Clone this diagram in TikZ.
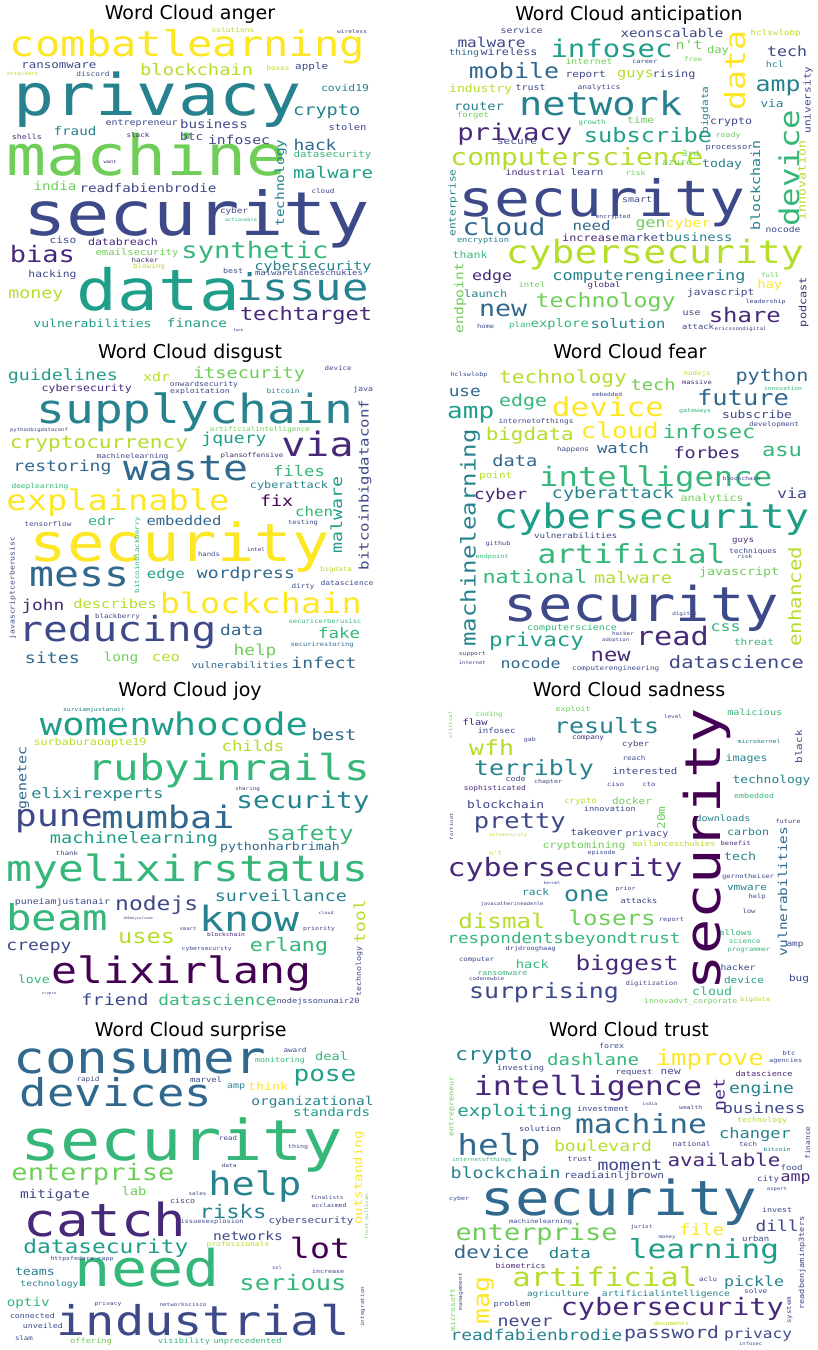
\documentclass[tikz,border=0pt]{standalone}
\usepackage{fontspec}
\usepackage{graphicx}
\newfontfamily\wcfont{DejaVu Sans Mono}
\newfontfamily\titlefont{DejaVu Sans}

% viridis colours
\definecolor{vA}{HTML}{440154}
\definecolor{vB}{HTML}{482878}
\definecolor{vC}{HTML}{3E4989}
\definecolor{vD}{HTML}{31688E}
\definecolor{vE}{HTML}{26828E}
\definecolor{vF}{HTML}{1F9E89}
\definecolor{vG}{HTML}{35B779}
\definecolor{vH}{HTML}{6ECE58}
\definecolor{vI}{HTML}{B5DE2B}
\definecolor{vJ}{HTML}{FDE725}

% word of given width, a bit squat like the cloud font
\newcommand{\wtext}[2]{\resizebox{#1pt}{!}{\scalebox{1}[0.84]{#2}}}

\tikzset{
  word/.style={inner sep=0pt, anchor=base, font=\wcfont},
  upword/.style={word, rotate=90},
  cloudtitle/.style={inner sep=0pt, anchor=base, font=\titlefont\fontsize{19}{19}\selectfont}
}

\begin{document}
\begin{tikzpicture}[x=1pt,y=-1pt]
 \useasboundingbox (0,0) rectangle (818,1350); %whole figure
 \fill[white] (0,0) rectangle (818,1350);

 % ---- anger ----
 \node[cloudtitle] (t-anger) at (190,19.3) {Word Cloud anger};
 \foreach \x/\y/\w/\c/\t [count=\i] in {187.5/56.7/355/vJ/combatlearning, 157.5/115/288/vE/privacy, 146.7/175/280/vH/machine, 196.7/235/347/vC/security, 158.3/310/163/vF/data, 302.5/300/132/vE/issue, 255/258/147/vG/synthetic, 42.5/262/65/vB/bias, 306/320/132/vB/techtarget, 326.7/115/67/vE/crypto, 196.7/75/113/vI/blockchain, 315/150/43/vD/hack, 333/178/80/vF/malware, 59/68/75/vC/ransomware, 311.7/69/33/vC/apple, 345/91/48/vE/covid19, 141.7/125/72/vC/entrepreneur, 214/128/68/vC/business, 75/135/43/vE/fraud, 191.7/140/23/vC/btc, 239/144/62/vC/infosec, 347.5/130/38/vC/stolen, 332.5/157/78/vG/datasecurity, 148/192/137/vC/readfabienbrodie, 55/190.7/43/vH/india, 323/193/23/vC/cloud, 234/213/28/vC/cyber, 63/243/27/vC/ciso, 123/245/70/vB/databreach, 137/255/83/vH/emailsecurity, 145/262/27/vB/hacker, 52.5/277/48/vC/hacking, 313/270/117/vE/cybersecurity, 233/273/20/vC/best, 149/268/32/vI/blowing, 36/298.3/55/vI/money, 92.5/327/118/vF/vulnerabilities, 197/327/60/vF/finance, 233/32/43/vI/solutions, 93/76/33/vC/discord, 278/70/23/vI/boxes, 22.5/75/32/vI/attackers, 27/139/30/vB/shells, 138/137/23/vB/slack, 110/163/13/vB/want, 238/331/10/vB/fuck, 309/275/108/vC/malwarelanceschukies, 241/221/32/vG/actionable, 352/33/30/vC/wireless}
  \node[word, text=\c] (ang\i) at (\x,\y) {\wtext{\w}{\t}};
 \foreach \x/\y/\w/\c/\t [count=\i] in {284/183/87/vE/technology}
  \node[upword, text=\c] (angr\i) at (\x,\y) {\wtext{\w}{\t}};

 % ---- anticipation ----
 \node[cloudtitle] (t-anticipation) at (629,20) {Word Cloud anticipation};
 \foreach \x/\y/\w/\c/\t [count=\i] in {602.3/216.7/287/vC/security, 654.8/263/298/vI/cybersecurity, 600.7/115/163/vE/network, 514.8/140/115/vB/privacy, 648/142/128/vF/subscribe, 611.5/57/122/vF/infosec, 514/78/90/vD/mobile, 577/165/253/vI/computerscience, 504/235/83/vD/cloud, 649/280/193/vE/computerengineering, 605.7/307/140/vH/technology, 503/316/48/vD/new, 744.8/322/72/vB/share, 628/328/75/vE/solution, 559.8/327/58/vG/explore, 492/280/40/vB/edge, 591.5/230/38/vD/need, 650.7/227/30/vH/gen, 688/227/45/vJ/cyber, 590.7/241/57/vB/increase, 643/241/45/vC/market, 699/241/67/vE/business, 778/91/45/vE/amp, 491.5/47/68/vC/malware, 509/55/57/vC/wireless, 464/55/30/vD/thing, 521.5/33/42/vC/service, 672/37/103/vC/xeonscalable, 689/49/27/vH/n't, 787/56/40/vC/tech, 775.7/35/50/vI/hclswlobp, 774.8/67/18/vE/hcl, 718/53/22/vH/day, 693/61/18/vH/free, 644.8/63/25/vC/career, 589/64/47/vH/internet, 585.7/77/40/vC/report, 635.7/77/37/vI/guys, 674/77/43/vC/rising, 480.7/92/63/vI/industry, 530.7/90/30/vC/trust, 599/89/43/vC/analytics, 479/110/50/vE/router, 473/117/32/vH/forget, 772/107/23/vE/via, 731/124/42/vC/crypto, 640.7/123/27/vH/time, 592/124/27/vG/growth, 517/144/40/vC/secure, 729/149/47/vC/processor, 690.7/156/17/vH/3rd, 728/137/25/vH/ready, 722/167/40/vE/today, 535.7/175/60/vB/industrial, 587/175/33/vC/learn, 635.7/175/20/vH/risk, 677/165/30/vH/azure, 637/202/30/vC/smart, 613/218/35/vC/encrypted, 483/242/52/vE/encryption, 470/258/35/vG/thank, 783/232/35/vC/nocode, 770/277/18/vH/full, 769.8/288/25/vJ/hay, 720.7/295/67/vC/javascript, 485.7/297/43/vE/launch, 532/287/27/vH/intel, 604/287/33/vB/global, 485.7/328/17/vC/home, 520/327/22/vG/plan, 691.5/315/18/vC/use, 698/329/32/vC/attack, 765.7/303/40/vC/leadership, 740.7/330/52/vC/ericssondigital}
  \node[word, text=\c] (ant\i) at (\x,\y) {\wtext{\w}{\t}};
 \foreach \x/\y/\w/\c/\t [count=\i] in {745/70/80/vJ/data, 799/168/117/vG/device, 760/185/90/vE/blockchain, 708/110/47/vE/bigdata, 805.7/180/80/vI/innovation, 810.7/100/67/vC/university, 455.7/203/67/vE/enterprise, 463.3/298/70/vH/endpoint, 806.3/302/50/vB/podcast}
  \node[upword, text=\c] (antr\i) at (\x,\y) {\wtext{\w}{\t}};

 % ---- disgust ----
 \node[cloudtitle] (t-disgust) at (190,358.3) {Word Cloud disgust};
 \foreach \x/\y/\w/\c/\t [count=\i] in {195/423/317/vE/supplychain, 317.5/456.7/72/vB/via, 99/448/178/vI/cryptocurrency, 186/480/125/vD/waste, 118/510/223/vJ/explainable, 180/561.7/300/vJ/security, 80/586.7/100/vD/mess, 260.8/613/202/vJ/blockchain, 117.5/641.7/198/vC/reducing, 63/380/110/vF/guidelines, 249/378/112/vH/itsecurity, 156.7/381.7/27/vI/xdr, 86.7/391.7/90/vB/cybersecurity, 234/443.3/65/vF/jquery, 62.5/471.7/98/vD/restoring, 299/476.7/52/vG/files, 289/488.3/78/vE/cyberattack, 276.7/506.7/33/vA/fix, 314/516.7/38/vG/chen, 101.7/525/27/vG/edr, 184/525/75/vD/embedded, 165.8/578.3/38/vF/edge, 246/578.3/98/vD/wordpress, 43/610/43/vB/john, 115/608.3/83/vI/describes, 241.7/635/43/vD/data, 339/638/42/vG/fake, 255/655/43/vH/help, 324/668.3/65/vD/infect, 52.5/663.3/55/vD/sites, 121/661.7/35/vH/long, 166/661.7/28/vI/ceo, 240/668.3/97/vD/vulnerabilities, 132.5/458.3/72/vC/machinelearning, 39/431.7/58/vC/pythonbigdataconf, 260/431.7/100/vH/artificialintelligence, 40/488.3/57/vG/deeplearning, 48/526.7/47/vC/tensorflow, 200/393.3/60/vC/exploitation, 204/386.7/68/vC/onwardsecurity, 283/393.3/33/vE/bitcoin, 252/457.3/63/vB/plansoffensive, 347/585/53/vC/datascience, 325/623.3/73/vG/securicerberusisc, 322/646.7/63/vD/securirestoring, 117.5/618.3/45/vC/blackberry, 338/370/27/vC/device, 363/391.7/20/vC/java, 303/524.3/30/vC/testing, 256/551.7/18/vB/intel, 303/588.3/23/vC/dirty, 336/571.7/32/vI/bigdata, 209/556.7/22/vC/hands}
  \node[word, text=\c] (dis\i) at (\x,\y) {\wtext{\w}{\t}};
 \foreach \x/\y/\w/\c/\t [count=\i] in {342/515/77/vF/malware, 368.5/485/170/vC/bitcoinbigdataconf, 14.5/588/103/vC/javascriptcerberusisc, 139/555/77/vG/bitcoinblackberry}
  \node[upword, text=\c] (disr\i) at (\x,\y) {\wtext{\w}{\t}};

 % ---- fear ----
 \node[cloudtitle] (t-fear) at (629.8,358.3) {Word Cloud fear};
 \foreach \x/\y/\w/\c/\t [count=\i] in {641.5/621.7/275/vC/security, 651.5/528.3/315/vF/cybersecurity, 655.7/486.7/233/vG/intelligence, 631.5/563.3/188/vG/artificial, 608/416.7/112/vJ/device, 619.8/438.3/78/vJ/cloud, 709/438.3/93/vG/infosec, 563/383.3/128/vI/technology, 653/390/45/vH/tech, 772/381.7/73/vD/python, 470.7/418.3/47/vF/amp, 743/405/92/vD/future, 523/406.7/48/vG/edge, 464.8/396/32/vD/use, 757/418.3/70/vC/subscribe, 529.8/440/88/vI/bigdata, 623/453.3/52/vD/watch, 707/458.3/67/vB/forbes, 782/456.7/40/vG/asu, 514.8/466/45/vD/data, 495.7/478.3/33/vI/point, 500.7/499.3/53/vB/cyber, 613/498.3/122/vE/cyberattack, 792/498.3/30/vC/via, 712/501.7/63/vH/analytics, 535/583.3/105/vG/national, 633/583.3/78/vI/malware, 739/575/80/vH/javascript, 743/542.7/22/vB/guys, 575.7/538.3/83/vC/vulnerabilities, 753/553.3/48/vC/techniques, 754/645/40/vG/threat, 725.7/631.7/30/vG/css, 672.3/645/73/vB/read, 536.5/646.7/95/vF/privacy, 610.7/661.7/40/vB/new, 736.5/668.3/135/vC/datascience, 530.7/668.3/60/vD/nocode, 572/630.7/90/vG/computerscience, 615.7/670/87/vC/computerengineering, 498/545/25/vC/github, 492/558.3/33/vG/endpoint, 697/384.3/30/vB/massive, 607/396/30/vC/embedded, 573/451.7/32/vC/happens, 536/423.3/75/vC/internetofthings, 695/412.3/32/vG/gateways, 741.5/480/38/vC/blockchain, 615.7/641.7/27/vC/adoption, 623/635.7/22/vC/hacker, 472.3/655/27/vC/support, 472.3/664/27/vC/internet, 684.8/615/25/vC/digital, 697/375/27/vI/nodejs, 469/376/37/vC/hclswlobp, 783/390/38/vG/innovation, 774/426/50/vC/development, 744.8/558.3/15/vC/risk}
  \node[word, text=\c] (fea\i) at (\x,\y) {\wtext{\w}{\t}};
 \foreach \x/\y/\w/\c/\t [count=\i] in {475.7/538/217/vE/machinelearning, 801/596.7/100/vI/enhanced}
  \node[upword, text=\c] (fear\i) at (\x,\y) {\wtext{\w}{\t}};

 % ---- joy ----
 \node[cloudtitle] (t-joy) at (190,696) {Word Cloud joy};
 \foreach \x/\y/\w/\c/\t [count=\i] in {174/735/268/vF/womenwhocode, 229/780/282/vG/rubyinrails, 303/808.3/133/vE/security, 59/826.7/88/vC/pune, 168/828.3/133/vD/mumbai, 187.5/881.7/362/vG/myelixirstatus, 57.5/930/102/vG/beam, 250/931.7/100/vE/know, 156.7/910/83/vC/nodejs, 281/901.7/132/vE/surveillance, 181.7/983.3/260/vA/elixirlang, 146.7/943.3/57/vI/uses, 289/951.7/78/vG/erlang, 39/950/65/vC/creepy, 310/840/87/vG/safety, 134/843.3/168/vF/machinelearning, 280/850/120/vD/pythonharbrimah, 97.5/798.3/132/vE/elixirexperts, 253/751.7/63/vI/childs, 334/740/45/vD/best, 90/745/113/vI/surbaburaoapte19, 94/711.7/62/vE/surviamjustanair, 34/983.3/32/vG/love, 115/1005/67/vC/friend, 217.5/1005/118/vG/datascience, 318/1003.3/83/vC/nodejssonunair20, 62.5/904/95/vC/puneiamjustanair, 138/919/30/vC/100daysofcode, 226/936.7/38/vB/blockchain, 206.7/950.7/50/vC/cybersecurity, 67/855/22/vC/thank, 49/994/15/vC/crypto, 188/930.7/17/vC/smart, 319/930.7/32/vC/priority, 326/914/15/vC/cloud, 247.5/790/25/vC/sharing}
  \node[word, text=\c] (joy\i) at (\x,\y) {\wtext{\w}{\t}};
 \foreach \x/\y/\w/\c/\t [count=\i] in {26.3/778/63/vD/genetec, 365/921.7/43/vI/tool, 361/971.7/50/vC/technology}
  \node[upword, text=\c] (joyr\i) at (\x,\y) {\wtext{\w}{\t}};

 % ---- sadness ----
 \node[cloudtitle] (t-sadness) at (629,696.7) {Word Cloud sadness};
 \foreach \x/\y/\w/\c/\t [count=\i] in {565/876.7/235/vB/cybersecurity, 606.5/733.3/105/vE/results, 491.5/755/45/vI/wfh, 534/775/120/vE/terribly, 519.8/828.3/92/vC/pretty, 586.5/901.7/45/vE/one, 502/928.3/87/vI/dismal, 612/925/87/vH/losers, 564/943.3/233/vG/respondentsbeyondtrust, 627/970/103/vB/biggest, 544/998.3/150/vC/surprising, 532.3/968.3/33/vG/hack, 505.7/808.3/77/vC/blockchain, 584/848.3/83/vH/cryptomining, 596.5/835/52/vC/takeover, 647/836.7/43/vC/privacy, 632/804/40/vH/docker, 580.7/803.3/33/vI/crypto, 609.8/811.7/52/vC/innovation, 644.8/774/65/vC/interested, 496.5/733.3/38/vC/infosec, 489/716.7/27/vH/coding, 573/711.7/35/vH/exploit, 475/725/25/vB/flaw, 754.8/715/55/vG/malicious, 746.5/761.7/42/vE/images, 771.5/783.3/78/vE/technology, 723/821.7/55/vE/downloads, 748/835/42/vE/carbon, 740/860/32/vE/tech, 747/890.7/40/vE/vmware, 735.7/935/33/vG/allows, 744.8/943.3/32/vG/science, 744/983.3/40/vF/device, 738/970/35/vC/hacker, 712/995/40/vG/cloud, 799/981.7/20/vC/bug, 795/946.7/17/vC/amp, 755/1001.7/30/vI/bigdata, 535.7/895/27/vE/rack, 639/903.3/37/vC/attacks, 671.5/921.7/25/vC/report, 502.3/975/50/vG/ransomware, 476.5/961.7/35/vC/computer, 486.5/980/35/vC/codenewbie, 651.5/985/52/vC/digitization, 690.7/1003.3/93/vH/innovadvt\_corporate, 748/878.3/52/vC/gernotheiser, 754/798.3/40/vG/embedded, 494.8/790/62/vB/sophisticated, 515.7/781.7/20/vC/code, 548/783.3/28/vC/chapter, 615.7/786.7/17/vC/ciso, 649/786.7/13/vC/cto, 635.7/746.7/27/vC/cyber, 529.8/741.7/12/vC/gab, 588/739.3/32/vB/company, 634/760/23/vC/reach, 673/718.3/18/vC/level, 759/743.3/43/vE/microkernel, 788/823.3/25/vC/future, 757/898.3/17/vC/help, 749/913.3/13/vC/low, 735.7/845/30/vB/benefit, 749/951.7/43/vG/programmer, 495.7/855/13/vI/n't, 508/836.7/38/vI/infosecurity, 674/846.7/83/vI/mallanceschukies, 601.5/854.3/28/vC/episode, 552/884/17/vC/kernel, 625.7/890/20/vC/prior, 512/905/63/vC/javacatherineadenle, 530.7/950.7/50/vC/drjdrooghaag}
  \node[word, text=\c] (sad\i) at (\x,\y) {\wtext{\w}{\t}};
 \foreach \x/\y/\w/\c/\t [count=\i] in {720/849/282/vA/security, 787/891.7/130/vD/vulnerabilities, 802/746.7/33/vC/black, 665/818/23/vH/20m, 453/826.7/27/vC/fortinet, 452/725/27/vH/critical}
  \node[upword, text=\c] (sadr\i) at (\x,\y) {\wtext{\w}{\t}};

 % ---- surprise ----
 \node[cloudtitle] (t-surprise) at (190.8,1036) {Word Cloud surprise};
 \foreach \x/\y/\w/\c/\t [count=\i] in {140/1073.3/253/vD/consumer, 116/1106.7/192/vD/devices, 181.7/1160/323/vG/security, 325/1081.7/63/vF/pose, 312.5/1105/122/vE/organizational, 331.7/1116/77/vF/standards, 331.7/1060/33/vG/deal, 268/1090/40/vJ/think, 236/1088.3/18/vE/amp, 206/1082.7/32/vC/marvel, 88/1081.7/23/vC/rapid, 280/1062.7/50/vG/monitoring, 295/1052.7/23/vC/award, 93/1180/163/vH/enterprise, 255/1195/93/vE/help, 55/1198.3/70/vC/mitigate, 134/1195/25/vH/lab, 105/1236.7/163/vB/catch, 233/1218.3/67/vE/risks, 311/1223.3/85/vC/cybersecurity, 248/1240/70/vC/networks, 320/1258.3/60/vA/lot, 105.8/1253.3/165/vF/datasecurity, 147.5/1286.7/145/vG/need, 293/1290/107/vG/serious, 203/1335/293/vC/industrial, 35/1275/40/vE/teams, 49.5/1286.7/58/vE/technology, 28.3/1306.7/43/vG/optiv, 32.5/1318.3/45/vC/connected, 43/1328.3/40/vC/unveiled, 24/1340/18/vC/slam, 91/1343.3/42/vH/offering, 184/1343.3/52/vG/visibility, 247.5/1343.3/68/vG/unprecedented, 238/1246.7/63/vI/professionals, 82/1260/63/vC/httpsfedora\_rapp, 328/1273.3/32/vC/increase, 197.5/1195/18/vC/sales, 182.5/1203.3/25/vC/cisco, 327/1199.3/33/vC/finalists, 329/1207.7/35/vC/acclaimed, 212/1223.3/63/vC/issuesexplosion, 277/1269.3/10/vC/ssl, 228/1140/18/vC/read, 298/1148.3/20/vC/thing, 108/1305/27/vC/privacy, 183/1306.7/47/vC/networkscisco, 229/1167.3/15/vC/data}
  \node[word, text=\c] (sur\i) at (\x,\y) {\wtext{\w}{\t}};
 \foreach \x/\y/\w/\c/\t [count=\i] in {362/1178/93/vJ/outstanding, 368/1217/45/vH/frost\_sullivan, 364/1306.7/40/vC/integration}
  \node[upword, text=\c] (surr\i) at (\x,\y) {\wtext{\w}{\t}};

 % ---- trust ----
 \node[cloudtitle] (t-trust) at (629,1036) {Word Cloud trust};
 \foreach \x/\y/\w/\c/\t [count=\i] in {619/1215/277/vD/security, 588/1095/228/vB/intelligence, 641/1133.3/132/vD/machine, 499/1155/83/vD/help, 709.8/1065/108/vJ/improve, 494/1060/77/vE/crypto, 593.2/1065/92/vG/dashlane, 761.5/1093.3/65/vE/engine, 764/1113.3/83/vC/business, 514.8/1116.7/115/vF/exploiting, 755/1138.3/72/vE/changer, 603/1151.7/98/vI/boulevard, 724/1166.7/113/vB/available, 630/1170/65/vC/moment, 505.7/1178.3/110/vE/blockchain, 795.7/1181.7/30/vB/amp, 536.5/1240/162/vH/enterprise, 704/1258.3/150/vF/learning, 701.5/1235/45/vJ/file, 777/1231.7/43/vC/dill, 491.5/1258.3/75/vD/device, 569.8/1258.3/42/vE/data, 604.8/1286.7/185/vI/artificial, 754/1286.7/60/vE/pickle, 672.3/1315/223/vB/cybersecurity, 525/1326.7/55/vC/never, 536.5/1340/172/vE/readfabienbrodie, 671.5/1338.3/95/vC/password, 758/1338.3/68/vC/privacy, 558/1296.7/62/vE/agriculture, 666/1296.7/128/vE/artificialintelligence, 520.7/1268.3/50/vB/biometrics, 512/1306.7/37/vC/problem, 614/1178.3/100/vC/readiainljbrown, 791.5/1170/22/vC/food, 768/1181.7/22/vC/city, 777/1151.7/27/vE/bitcoin, 748/1146.7/18/vC/tech, 691.5/1146.7/38/vC/national, 762/1122.7/50/vI/technology, 690.7/1109/23/vC/wealth, 603/1111.7/52/vC/investment, 649.8/1105/15/vC/india, 540/1131.7/42/vC/solution, 520.7/1070/47/vC/investing, 634/1074/37/vC/request, 670.7/1074/20/vC/new, 611.5/1048.3/25/vC/forex, 764/1076.7/57/vB/datascience, 789/1055/13/vC/btc, 785.7/1062.7/33/vC/agencies, 579.8/1161.7/25/vC/trust, 667/1238.3/17/vC/money, 755.7/1241/27/vC/urban, 777/1212.7/30/vC/invest, 777/1190/20/vC/expert, 708/1281.7/18/vC/aclu, 755.7/1293.3/23/vC/solve, 459/1200.7/20/vC/cyber, 482/1161.7/60/vG/internetofthings, 671.5/1325/35/vI/documents, 750.7/1345/23/vC/infosec, 641.5/1228.3/22/vC/jurist, 540.7/1223.3/63/vC/machinelearning}
  \node[word, text=\c] (tru\i) at (\x,\y) {\wtext{\w}{\t}};
 \foreach \x/\y/\w/\c/\t [count=\i] in {724.6/1095/33/vB/net, 489/1300/48/vJ/mag, 804/1263/93/vC/readbenjaminp3ters, 810/1143/33/vC/finance, 453.6/1106.7/60/vH/entrepreneur, 455/1310/43/vH/microsoft, 462/1291.7/37/vC/management, 791/1310/27/vC/system}
  \node[upword, text=\c] (trur\i) at (\x,\y) {\wtext{\w}{\t}};
\end{tikzpicture}
\end{document}
